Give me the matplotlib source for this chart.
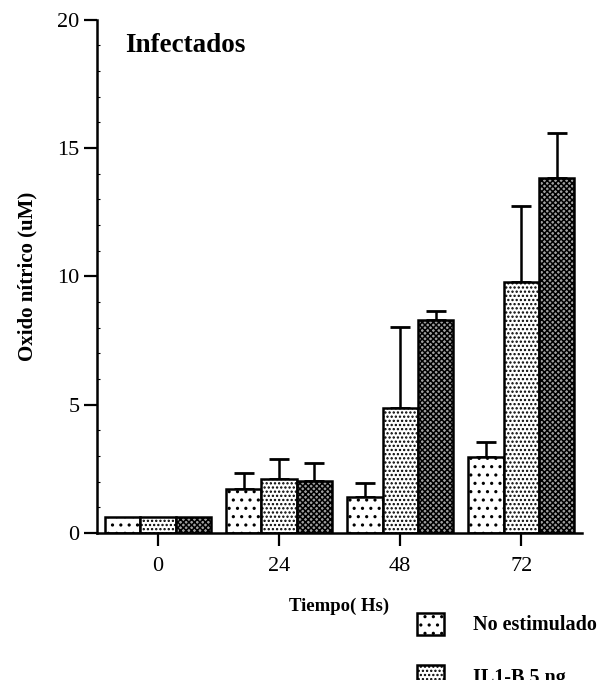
"""Nitric oxide production in infected cells, bar chart with upper error bars."""

import matplotlib

matplotlib.use("Agg")
import matplotlib.pyplot as plt
import numpy as np
from matplotlib.patches import Patch

times = ["0", "24", "48", "72"]
series_labels = ["No estimulado", "IL1-B 5 ng", "IL1-B 10 ng"]
no_estimulado = [0.62, 1.72, 1.40, 2.96]
il1b_5 = [0.62, 2.10, 4.87, 9.79]
il1b_10 = [0.62, 2.04, 8.30, 13.84]
err_no_estimulado = [0.0, 0.62, 0.55, 0.59]
err_il1b_5 = [0.0, 0.78, 3.16, 2.96]
err_il1b_10 = [0.0, 0.70, 0.35, 1.76]

plt.rcParams["font.family"] = ["Liberation Serif", "DejaVu Serif"]
plt.rcParams["hatch.linewidth"] = 1.1

fig = plt.figure(figsize=(6.05, 6.8), dpi=100)
ax = fig.add_axes([0.160, 0.216, 0.802, 0.755])

x = np.arange(len(times))
width = 0.292
styles = [
    dict(facecolor="white", hatch=". ."),
    dict(facecolor="white", hatch="...."),
    dict(facecolor="#a0a0a0", hatch="xxxxxx"),
]
values = [no_estimulado, il1b_5, il1b_10]
errors = [err_no_estimulado, err_il1b_5, err_il1b_10]

for i, (vals, errs, style) in enumerate(zip(values, errors, styles)):
    pos = x + (i - 1) * width
    ax.bar(pos, vals, width, edgecolor="black", linewidth=1.8, zorder=2, **style)
    has_err = np.array(errs) > 0
    ax.errorbar(pos[has_err], np.array(vals)[has_err],
                yerr=[np.zeros(has_err.sum()), np.array(errs)[has_err]],
                fmt="none", ecolor="black", elinewidth=1.8, capsize=7, capthick=2, zorder=1)

ax.set_xlim(-0.504, 3.50)
ax.set_ylim(0, 20)
ax.set_xticks(x)
ax.set_xticklabels(times)
ax.set_yticks([0, 5, 10, 15, 20])
ax.set_yticks(np.arange(0, 20, 1), minor=True)

for side in ("top", "right"):
    ax.spines[side].set_visible(False)
for side in ("left", "bottom"):
    ax.spines[side].set_linewidth(1.8)

ax.tick_params(axis="y", which="major", direction="out", length=9.5, width=1.6,
               labelsize=16, pad=3)
ax.tick_params(axis="x", which="major", direction="out", length=9, width=1.6,
               labelsize=16, pad=8)
ax.tick_params(axis="y", which="minor", direction="in", length=2, width=0.8)

ax.set_ylabel("Oxido nítrico (uM)", fontsize=15, fontweight="bold", labelpad=14)
ax.set_xlabel("Tiempo( Hs)", fontsize=13.5, fontweight="bold", labelpad=16)
ax.text(0.058, 0.975, "Infectados", transform=ax.transAxes, fontsize=19.5,
        fontweight="bold", va="top", ha="left")

handles = [Patch(edgecolor="black", linewidth=1.8, **style) for style in styles[:2]]
fig.legend(handles, series_labels[:2], loc="upper left", bbox_to_anchor=(0.673, 0.114),
           frameon=False, prop={"weight": "bold", "size": 14.5},
           handlelength=1.35, handleheight=1.3, handletextpad=1.4, labelspacing=1.5,
           borderpad=0)

fig.savefig("out.png", dpi=100)
